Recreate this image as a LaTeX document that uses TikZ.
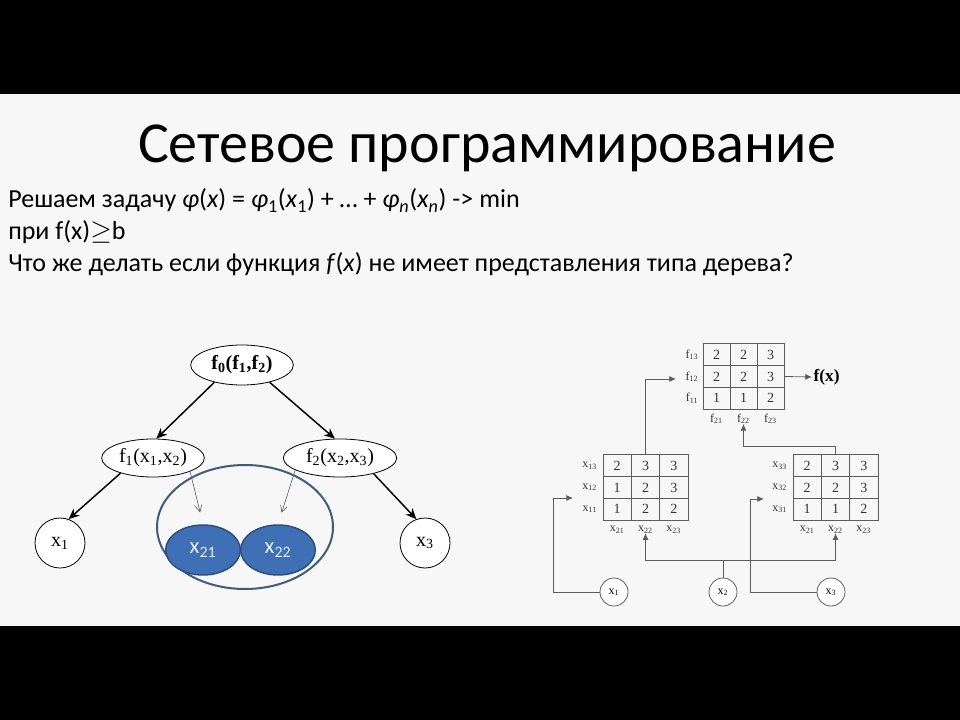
\documentclass[tikz,border=0pt]{standalone}
\usepackage{fontspec}
\setmainfont{Carlito}
\newfontfamily\tms{Liberation Serif}
\usetikzlibrary{shapes.geometric,arrows.meta,matrix}
\definecolor{bg}{HTML}{F7F7F7}
\definecolor{blfill}{HTML}{3F6FB5}
\definecolor{bldraw}{HTML}{2C4E7E}
\definecolor{ring}{HTML}{3E5C7C}
\definecolor{ln}{HTML}{5C5C5C}
\definecolor{bltext}{HTML}{E4EDF8}
\begin{document}
\begin{tikzpicture}[x=0.75pt,y=-0.75pt,
  title/.style={font=\fontsize{43.5}{50}\selectfont, inner sep=0pt},
  body/.style={font=\fontsize{19.5}{24}\selectfont, inner sep=0pt, anchor=base west},
  tnode/.style={ellipse, draw=black, line width=0.6pt, fill=white, inner sep=0pt, font=\tms\fontsize{15}{17}\selectfont},
  cnode/.style={circle, draw=black, line width=0.6pt, fill=white, inner sep=0pt, minimum size=37.5pt, font=\tms\fontsize{15}{17}\selectfont},
  bnode/.style={ellipse, draw=bldraw, line width=1.1pt, fill=blfill, inner sep=0pt, minimum width=56pt, minimum height=37.5pt, text=bltext, font=\fontsize{17}{19}\selectfont},
  tarr/.style={-{Stealth[length=8pt,width=7pt]}, line width=1.1pt, black},
  narr/.style={-{Straight Barb[length=5pt,width=5pt]}, line width=0.45pt, ln},
  cell/.style={draw=ln, line width=0.6pt, minimum height=16.3pt, inner sep=0pt, font=\tms\fontsize{10.5}{12}\selectfont, text=black!80},
  tab/.style={matrix of nodes, inner sep=0pt, column sep=-0.6pt, row sep=-0.6pt},
  lbl/.style={inner sep=0pt, font=\tms\fontsize{9}{10}\selectfont, text=black!80},
  rarr/.style={-{Latex[length=5pt,width=4.5pt]}, line width=0.6pt, ln},
  rline/.style={line width=0.6pt, ln},
  sc/.style={circle, draw=ln, line width=0.6pt, fill=white, inner sep=0pt, minimum size=21pt, font=\tms\fontsize{9}{10}\selectfont}
]
\fill[black] (0,0) rectangle (960,720);
\fill[bg] (0,94) rectangle (960,626);
\useasboundingbox (0,0) rectangle (960,720);

% texts
\node[title, anchor=base] (ttl) at (487,163) {Сетевое программирование};
\node[body] (l1) at (8,208) {Решаем задачу \textit{φ}(\textit{x}) = \textit{φ}\textsubscript{1}(\textit{x}\textsubscript{1}) + … + \textit{φ}\textsubscript{\textit{n}}(\textit{x}\textsubscript{\textit{n}}) -> min};
\node[body] (l2) at (8,240) {при f(x)$\geq$b};
\node[body] (l3) at (8,272) {Что же делать если функция \textit{f}(\textit{x}) не имеет представления типа дерева?};

% left tree
\node[ellipse, draw=ring, line width=1.5pt, minimum width=132pt, minimum height=93pt] (ring) at (245,527) {};
\node[tnode, minimum width=77pt, minimum height=30pt, font=\tms\bfseries\fontsize{15}{17}\selectfont] (f0) at (242,365) {f\textsubscript{0}(f\textsubscript{1},f\textsubscript{2})};
\node[tnode, minimum width=77pt, minimum height=28.5pt] (f1) at (153,458) {f\textsubscript{1}(x\textsubscript{1},x\textsubscript{2})};
\node[tnode, minimum width=85pt, minimum height=28.5pt] (f2) at (340,458) {f\textsubscript{2}(x\textsubscript{2},x\textsubscript{3})};
\node[cnode] (x1) at (60,543) {x\textsubscript{1}};
\node[cnode] (x3) at (425,543) {x\textsubscript{3}};
\node[bnode] (x21) at (203,550) {x\textsubscript{21}};
\node[bnode] (x22) at (278,550) {x\textsubscript{22}};

\draw[tarr] (f0.212) -- (f1.80);
\draw[tarr] (f0.-32) -- (f2.105);
\draw[tarr] (f1.205) -- (x1.70);
\draw[tarr] (f2.-25) -- (x3.110);
\draw[narr, shorten >=9pt] (f1.-20) -- (x21.north);
\draw[narr, shorten >=9pt] (f2.195) -- (x22.north);

% right diagram: tables
\matrix (T) [tab, nodes={cell, minimum width=20.25pt}] at (743.5,376.5) {
2 & 2 & 3\\
2 & 2 & 3\\
1 & 1 & 2\\};
\matrix (L) [tab, nodes={cell, minimum width=21.2pt}] at (645.5,487.5) {
2 & 3 & 3\\
1 & 2 & 3\\
1 & 2 & 2\\};
\matrix (R) [tab, nodes={cell, minimum width=21.2pt}] at (835.5,487.5) {
2 & 3 & 3\\
2 & 2 & 3\\
1 & 1 & 2\\};

% row labels
\node[lbl, anchor=east] (T-r1) at ([xshift=-3pt]T-1-1.west) {f\textsubscript{13}};
\node[lbl, anchor=east] (T-r2) at ([xshift=-3pt]T-2-1.west) {f\textsubscript{12}};
\node[lbl, anchor=east] (T-r3) at ([xshift=-3pt]T-3-1.west) {f\textsubscript{11}};
\node[lbl, anchor=north] (T-c1) at ([yshift=-3pt]T-3-1.south) {f\textsubscript{21}};
\node[lbl, anchor=north] (T-c2) at ([yshift=-3pt]T-3-2.south) {f\textsubscript{22}};
\node[lbl, anchor=north] (T-c3) at ([yshift=-3pt]T-3-3.south) {f\textsubscript{23}};

\node[lbl, anchor=east] (L-r1) at ([xshift=-4pt]L-1-1.west) {x\textsubscript{13}};
\node[lbl, anchor=east] (L-r2) at ([xshift=-4pt]L-2-1.west) {x\textsubscript{12}};
\node[lbl, anchor=east] (L-r3) at ([xshift=-4pt]L-3-1.west) {x\textsubscript{11}};
\node[lbl, anchor=north] (L-c1) at ([yshift=-4pt]L-3-1.south) {x\textsubscript{21}};
\node[lbl, anchor=north] (L-c2) at ([yshift=-4pt]L-3-2.south) {x\textsubscript{22}};
\node[lbl, anchor=north] (L-c3) at ([yshift=-4pt]L-3-3.south) {x\textsubscript{23}};

\node[lbl, anchor=east] (R-r1) at ([xshift=-4pt]R-1-1.west) {x\textsubscript{33}};
\node[lbl, anchor=east] (R-r2) at ([xshift=-4pt]R-2-1.west) {x\textsubscript{32}};
\node[lbl, anchor=east] (R-r3) at ([xshift=-4pt]R-3-1.west) {x\textsubscript{31}};
\node[lbl, anchor=north] (R-c1) at ([yshift=-4pt]R-3-1.south) {x\textsubscript{21}};
\node[lbl, anchor=north] (R-c2) at ([yshift=-4pt]R-3-2.south) {x\textsubscript{22}};
\node[lbl, anchor=north] (R-c3) at ([yshift=-4pt]R-3-3.south) {x\textsubscript{23}};

\node[inner sep=1pt, anchor=west, font=\tms\bfseries\fontsize{13}{15}\selectfont] (fx) at (812,377) {f(x)};

% small circles
\node[sc] (s1) at (614,592) {x\textsubscript{1}};
\node[sc] (s2) at (723,592) {x\textsubscript{2}};
\node[sc] (s3) at (831,592) {x\textsubscript{3}};

% connectors
\coordinate (a1) at (553,498);
\coordinate (a1t) at (573,498);
\coordinate (a3) at (750,499);
\coordinate (a3t) at (764,499);
\coordinate (j) at (723,560);
\coordinate (tj) at (676,379);
\coordinate (rj) at (835.5,446);

\draw[rarr] (T.east) -- (fx.west);
\draw[rarr] (L.north) |- (tj);
\draw[rarr] (R.north) -- (rj) -| (T-c2.south);
\draw[rarr] (s1.west) -| (a1) -- (a1t);
\draw[rarr] (s3.west) -| (a3) -- (a3t);
\draw[rline] (s2.north) -- (j);
\draw[rarr] (j) -| (L-c2.south);
\draw[rarr] (j) -| (R-c2.south);
\end{tikzpicture}
\end{document}
